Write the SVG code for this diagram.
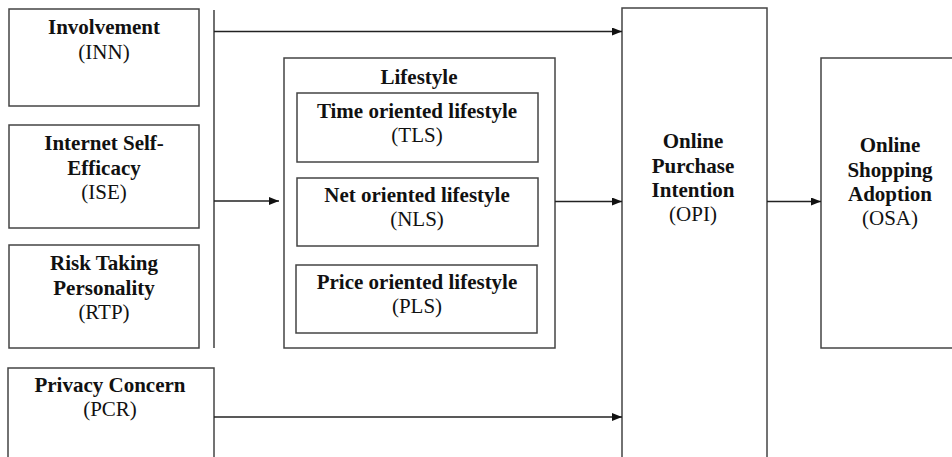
<svg xmlns="http://www.w3.org/2000/svg" width="952" height="457" viewBox="0 0 952 457">
<style>
.box{fill:#fff;stroke:#444;stroke-width:1.5}
.ln{fill:none;stroke:#222;stroke-width:1.3}
text{font-family:'Liberation Serif','Times New Roman','DejaVu Serif',serif;font-size:21px;fill:#111;text-anchor:middle}
.b{font-weight:bold}
</style>
<defs>
<marker id="ah" markerWidth="10" markerHeight="8" refX="10" refY="4" orient="auto" markerUnits="userSpaceOnUse">
<path d="M0,0 L10,4 L0,8 Z" fill="#111"/>
</marker>
</defs>
<rect width="952" height="457" fill="#fff"/>
<g id="INN">
<rect class="box" x="9" y="9" width="190" height="97"/>
<text class="b" x="104" y="34">Involvement</text>
<text x="104" y="59">(INN)</text>
</g>
<g id="ISE">
<rect class="box" x="9" y="125" width="190" height="103"/>
<text class="b" x="104" y="150">Internet Self-</text>
<text class="b" x="104" y="175">Efficacy</text>
<text x="104" y="199">(ISE)</text>
</g>
<g id="RTP">
<rect class="box" x="9" y="245" width="190" height="103"/>
<text class="b" x="104" y="270">Risk Taking</text>
<text class="b" x="104" y="295">Personality</text>
<text x="104" y="319">(RTP)</text>
</g>
<g id="PCR">
<rect class="box" x="8" y="368" width="206" height="100"/>
<text class="b" x="110" y="392">Privacy Concern</text>
<text x="110" y="416">(PCR)</text>
</g>
<g id="LS">
<rect class="box" x="284" y="58" width="271" height="290"/>
<text class="b" x="419" y="84">Lifestyle</text>
</g>
<g id="TLS">
<rect class="box" x="297" y="93" width="241" height="69"/>
<text class="b" x="417" y="118">Time oriented lifestyle</text>
<text x="417" y="142">(TLS)</text>
</g>
<g id="NLS">
<rect class="box" x="297" y="178" width="241" height="68"/>
<text class="b" x="417" y="202">Net oriented lifestyle</text>
<text x="417" y="226">(NLS)</text>
</g>
<g id="PLS">
<rect class="box" x="296" y="265" width="241" height="68"/>
<text class="b" x="417" y="289">Price oriented lifestyle</text>
<text x="417" y="313">(PLS)</text>
</g>
<g id="OPI">
<rect class="box" x="622" y="8" width="145" height="460"/>
<text class="b" x="693" y="148">Online</text>
<text class="b" x="693" y="173">Purchase</text>
<text class="b" x="693" y="197">Intention</text>
<text x="693" y="221">(OPI)</text>
</g>
<g id="OSA">
<rect class="box" x="821" y="58" width="140" height="290"/>
<text class="b" x="890" y="152">Online</text>
<text class="b" x="890" y="177">Shopping</text>
<text class="b" x="890" y="201">Adoption</text>
<text x="890" y="225">(OSA)</text>
</g>
<g id="connectors">
<line class="ln" x1="214" y1="10" x2="214" y2="348"/>
<line class="ln" x1="214" y1="31.5" x2="622" y2="31.5" marker-end="url(#ah)"/>
<line class="ln" x1="214" y1="201" x2="279" y2="201" marker-end="url(#ah)"/>
<line class="ln" x1="555" y1="201.5" x2="622" y2="201.5" marker-end="url(#ah)"/>
<line class="ln" x1="767" y1="201.5" x2="821" y2="201.5" marker-end="url(#ah)"/>
<line class="ln" x1="214" y1="417" x2="622" y2="417" marker-end="url(#ah)"/>
</g>
</svg>
